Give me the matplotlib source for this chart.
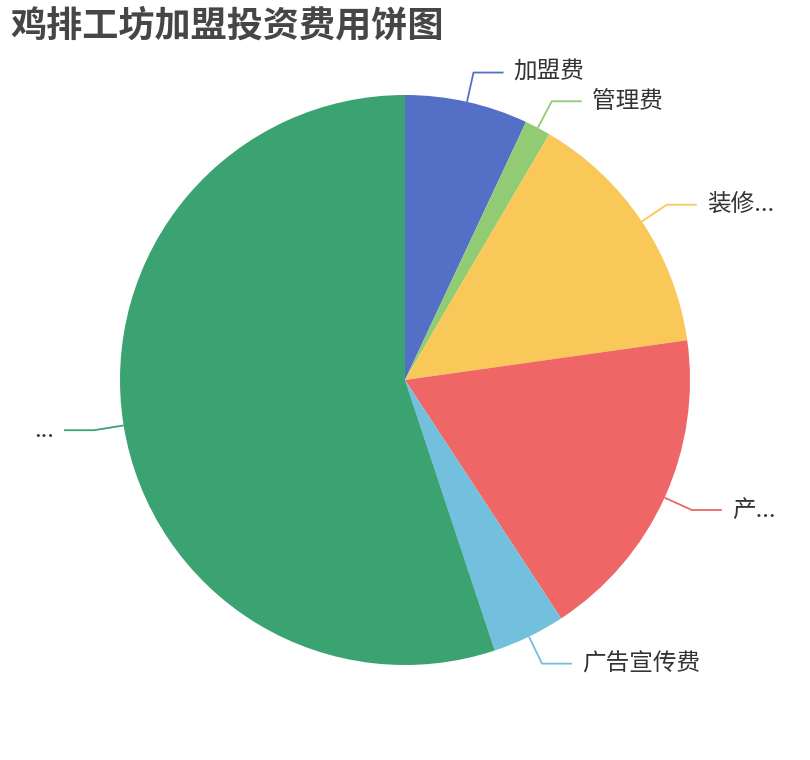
import matplotlib
matplotlib.use('Agg')
import matplotlib.pyplot as plt
import numpy as np

plt.rcParams['font.family'] = ['Noto Sans CJK SC', 'DejaVu Sans']

# data
labels = ['加盟费', '管理费', '装修...', '产...', '广告宣传费', '...']
values = [3.8, 0.8, 7.8, 9.8, 2.25, 30.0]
colors = ['#5470c6', '#91cc75', '#fac858', '#ee6666', '#73c0de', '#3ba272']
title = '鸡排工坊加盟投资费用饼图'

W, H = 810, 760
cx, cy, R = 405, 380, 285  # pie centre and radius in px

fig = plt.figure(figsize=(W / 100, H / 100), dpi=100)
ax = fig.add_axes([0, 0, 1, 1])

wedges, _ = ax.pie(values, colors=colors, startangle=90, counterclock=False,
                   radius=1, wedgeprops=dict(linewidth=0))

# pie() resets the limits, so set them afterwards
ax.set_xlim(-cx / R, (W - cx) / R)
ax.set_ylim(-(H - cy) / R, cy / R)
ax.set_aspect('equal')
ax.axis('off')

r2 = 315 / R
seg = 30 / R
gap = 10 / R
for w, lab, col in zip(wedges, labels, colors):
    mid = np.deg2rad((w.theta1 + w.theta2) / 2)
    x0, y0 = np.cos(mid), np.sin(mid)
    x1, y1 = r2 * np.cos(mid), r2 * np.sin(mid)
    side = 1 if x1 >= 0 else -1
    x2 = x1 + side * seg
    ax.plot([x0, x1, x2], [y0, y1, y1], color=col, lw=1.3, solid_capstyle='butt')
    ax.text(x2 + side * gap, y1, lab, fontsize=17, color='#333333',
            ha='left' if side > 0 else 'right', va='center')

fig.text(10 / W, 1 - 26 / H, title, fontsize=26, fontweight='bold',
         color='#464646', ha='left', va='center')

fig.savefig('out.png', dpi=100)
